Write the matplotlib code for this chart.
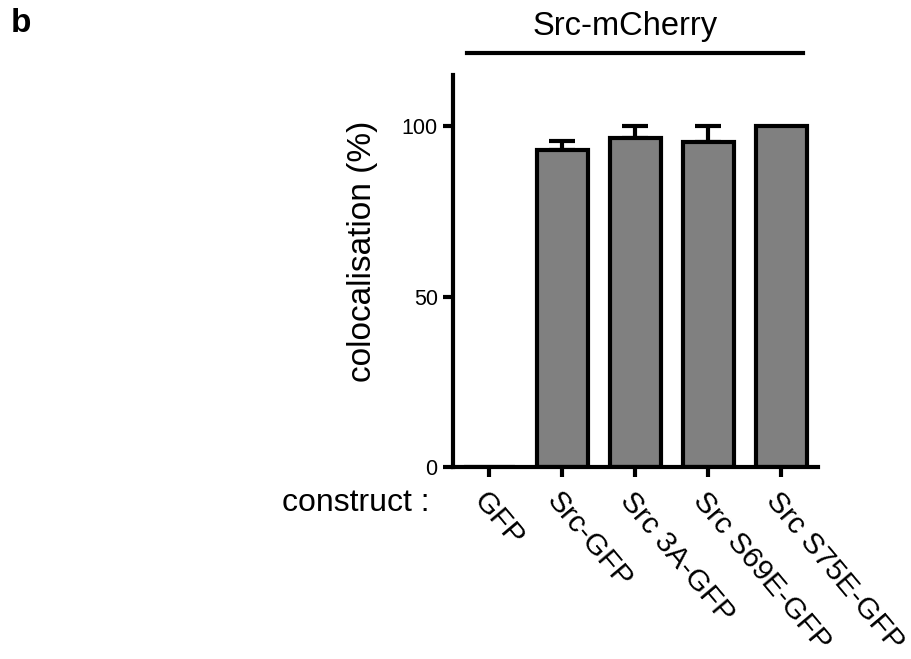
import matplotlib
matplotlib.use("Agg")
import matplotlib.pyplot as plt
from matplotlib.lines import Line2D

plt.rcParams['font.family'] = ['Liberation Sans', 'DejaVu Sans']

categories = ["GFP", "Src-GFP", "Src 3A-GFP", "Src S69E-GFP", "Src S75E-GFP"]
values = [0, 93, 96.5, 95.3, 100]
errors = [0, 2.7, 3.5, 4.7, 0]
yticks = [0, 50, 100]

W, H = 912, 659
fig = plt.figure(figsize=(W / 100, H / 100), dpi=100)
left, right, bottom, top = 453 / W, 818 / W, 1 - 467 / H, 1 - 75 / H
ax = fig.add_axes([left, bottom, right - left, top - bottom])

x = list(range(len(categories)))
ax.bar(x, values, width=0.7, color='#808080', edgecolor='black', linewidth=3, zorder=2)
ax.errorbar(x[1:4], values[1:4], yerr=[[0] * 3, errors[1:4]], fmt='none',
            ecolor='black', elinewidth=3, capsize=9.5, capthick=3, zorder=1)

ax.set_xlim(-0.5, 4.5)
ax.set_ylim(0, 115)
ax.set_yticks(yticks)
ax.set_yticklabels([str(t) for t in yticks], fontsize=15.5)
ax.set_xticks(x)
ax.set_xticklabels(categories, fontsize=21.5, rotation=-50, ha='left', va='top',
                   rotation_mode='anchor')
ax.tick_params(axis='both', direction='out', length=7, width=3)
ax.tick_params(axis='x', pad=7)
ax.tick_params(axis='y', pad=4)
for s in ['top', 'right']:
    ax.spines[s].set_visible(False)
for s in ['left', 'bottom']:
    ax.spines[s].set_linewidth(3)

fig.text(363 / W, 1 - 251 / H, "colocalisation (%)", rotation=90, fontsize=24,
         ha='center', va='center')
fig.text(430 / W, 1 - 503 / H, "construct :", fontsize=23, ha='right', va='center')
fig.text(625 / W, 1 - 27 / H, "Src-mCherry", fontsize=23.5, ha='center', va='center')
fig.add_artist(Line2D([467 / W, 803 / W], [1 - 53 / H, 1 - 53 / H], color='black',
                      linewidth=3, transform=fig.transFigure))
fig.text(11 / W, 1 - 24 / H, "b", fontsize=24, fontweight='bold', ha='left', va='center')

fig.savefig("out.png", dpi=100)
